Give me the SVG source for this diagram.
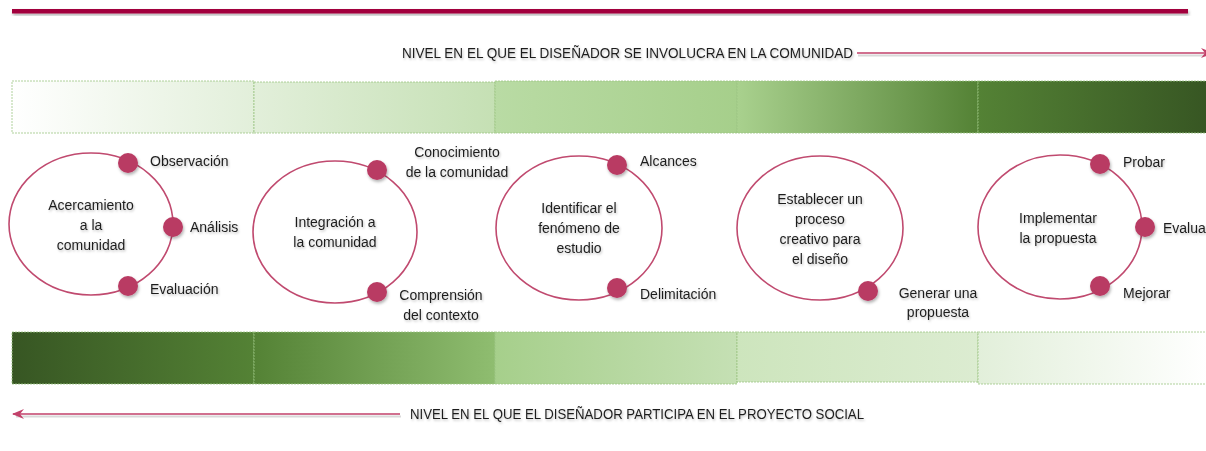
<svg xmlns="http://www.w3.org/2000/svg" width="1206" height="451" viewBox="0 0 1206 451">
<defs>
<style>
text{font-family:"Liberation Sans",Arial,sans-serif;font-size:14px;fill:#1f1f1f;filter:url(#ts)}
.c{text-anchor:middle}
.ring{fill:none;stroke:#c04a6f;stroke-width:1.6}
.dot{fill:#b93a63;filter:url(#ds)}
.seg{stroke:#9cc584;stroke-width:0.8;stroke-dasharray:2 1}
.arr{stroke:#c2416a;stroke-width:1.4;fill:none}
.arrsh{stroke:#000;stroke-opacity:0.15;stroke-width:2;fill:none}
</style>
<filter id="ts" x="-10%" y="-30%" width="120%" height="160%"><feDropShadow dx="1" dy="1.5" stdDeviation="1" flood-color="#000" flood-opacity="0.25"/></filter>
<filter id="ds" x="-20%" y="-50%" width="140%" height="200%"><feDropShadow dx="1" dy="2" stdDeviation="1.5" flood-color="#000" flood-opacity="0.3"/></filter>
<linearGradient id="t1"><stop offset="0" stop-color="#ffffff"/><stop offset="1" stop-color="#e2efda"/></linearGradient>
<linearGradient id="t2"><stop offset="0" stop-color="#e2efda"/><stop offset="1" stop-color="#c5e0b4"/></linearGradient>
<linearGradient id="t3"><stop offset="0" stop-color="#b9dba4"/><stop offset="1" stop-color="#a6cf8b"/></linearGradient>
<linearGradient id="t4"><stop offset="0" stop-color="#a9d18e"/><stop offset="1" stop-color="#548235"/></linearGradient>
<linearGradient id="t5"><stop offset="0" stop-color="#548235"/><stop offset="1" stop-color="#375623"/></linearGradient>
<linearGradient id="b1"><stop offset="0" stop-color="#375623"/><stop offset="1" stop-color="#548235"/></linearGradient>
<linearGradient id="b2"><stop offset="0" stop-color="#548235"/><stop offset="1" stop-color="#8fbd70"/></linearGradient>
<linearGradient id="b3"><stop offset="0" stop-color="#a6cf8b"/><stop offset="1" stop-color="#c5e0b4"/></linearGradient>
<linearGradient id="b4"><stop offset="0" stop-color="#cde5bd"/><stop offset="1" stop-color="#dcecd1"/></linearGradient>
<linearGradient id="b5"><stop offset="0" stop-color="#e2efda"/><stop offset="1" stop-color="#ffffff"/></linearGradient>
<marker id="ahr" markerWidth="12" markerHeight="10" refX="11" refY="5" orient="auto" markerUnits="userSpaceOnUse"><path d="M0,0 L12,5 L0,10 L4,5 Z" fill="#c2416a"/></marker>
</defs>

<rect x="12" y="9" width="1176" height="4.5" fill="#a2063c" filter="url(#ds)"/>

<g id="bar-top">
<rect class="seg" x="12" y="81" width="242" height="52" fill="url(#t1)"/>
<rect class="seg" x="254" y="82" width="241" height="51" fill="url(#t2)"/>
<rect class="seg" x="495" y="81" width="242" height="52" fill="url(#t3)"/>
<rect class="seg" x="737" y="81" width="241" height="52" fill="url(#t4)"/>
<rect class="seg" x="978" y="81" width="230" height="52" fill="url(#t5)"/>
</g>
<g id="bar-bottom">
<rect class="seg" x="12" y="332" width="242" height="52" fill="url(#b1)"/>
<rect class="seg" x="254" y="332" width="241" height="52" fill="url(#b2)"/>
<rect class="seg" x="495" y="332" width="242" height="52" fill="url(#b3)"/>
<rect class="seg" x="737" y="332" width="241" height="50" fill="url(#b4)"/>
<rect class="seg" x="978" y="332" width="230" height="52" fill="url(#b5)"/>
</g>

<g id="connectors">
<line class="arrsh" x1="858" y1="55.5" x2="1206" y2="55.5"/>
<line class="arr" x1="857" y1="53" x2="1212" y2="53" marker-end="url(#ahr)"/>
<line class="arrsh" x1="16" y1="416.5" x2="401" y2="416.5"/>
<line class="arr" x1="400" y1="414" x2="13" y2="414" marker-end="url(#ahr)"/>
</g>

<g id="label-top"><text x="402" y="58" textLength="451" lengthAdjust="spacingAndGlyphs">NIVEL EN EL QUE EL DISEÑADOR SE INVOLUCRA EN LA COMUNIDAD</text></g>
<g id="label-bottom"><text x="410" y="419" textLength="454" lengthAdjust="spacingAndGlyphs">NIVEL EN EL QUE EL DISEÑADOR PARTICIPA EN EL PROYECTO SOCIAL</text></g>

<g id="node1">
<ellipse class="ring" cx="91" cy="224" rx="82" ry="71"/>
<text class="c" x="91" y="210">Acercamiento</text>
<text class="c" x="91" y="230">a la</text>
<text class="c" x="91" y="250">comunidad</text>
<circle class="dot" cx="128" cy="163" r="10"/>
<circle class="dot" cx="173" cy="227" r="10"/>
<circle class="dot" cx="128" cy="286" r="10"/>
<text x="150" y="166">Observación</text>
<text x="190" y="232">Análisis</text>
<text x="150" y="294">Evaluación</text>
</g>

<g id="node2">
<ellipse class="ring" cx="335" cy="232" rx="82" ry="71"/>
<text class="c" x="335" y="227">Integración a</text>
<text class="c" x="335" y="247">la comunidad</text>
<circle class="dot" cx="377" cy="170" r="10"/>
<circle class="dot" cx="377" cy="292" r="10"/>
<text class="c" x="457" y="157">Conocimiento</text>
<text class="c" x="457" y="177">de la comunidad</text>
<text class="c" x="441" y="300">Comprensión</text>
<text class="c" x="441" y="320">del contexto</text>
</g>

<g id="node3">
<ellipse class="ring" cx="579" cy="228" rx="83" ry="72"/>
<text class="c" x="579" y="213">Identificar el</text>
<text class="c" x="579" y="233">fenómeno de</text>
<text class="c" x="579" y="253">estudio</text>
<circle class="dot" cx="617" cy="165" r="10"/>
<circle class="dot" cx="617" cy="288" r="10"/>
<text x="640" y="166">Alcances</text>
<text x="640" y="299">Delimitación</text>
</g>

<g id="node4">
<ellipse class="ring" cx="820" cy="228" rx="83" ry="72"/>
<text class="c" x="820" y="204">Establecer un</text>
<text class="c" x="820" y="224">proceso</text>
<text class="c" x="820" y="244">creativo para</text>
<text class="c" x="820" y="264">el diseño</text>
<circle class="dot" cx="868" cy="291" r="10"/>
<text class="c" x="938" y="298">Generar una</text>
<text class="c" x="938" y="317">propuesta</text>
</g>

<g id="node5">
<ellipse class="ring" cx="1060" cy="227" rx="82" ry="72"/>
<text class="c" x="1058" y="223">Implementar</text>
<text class="c" x="1058" y="243">la propuesta</text>
<circle class="dot" cx="1100" cy="164" r="10"/>
<circle class="dot" cx="1145" cy="227" r="10"/>
<circle class="dot" cx="1100" cy="286" r="10"/>
<text x="1123" y="167">Probar</text>
<text x="1163" y="233">Evalua</text>
<text x="1123" y="298">Mejorar</text>
</g>
</svg>
